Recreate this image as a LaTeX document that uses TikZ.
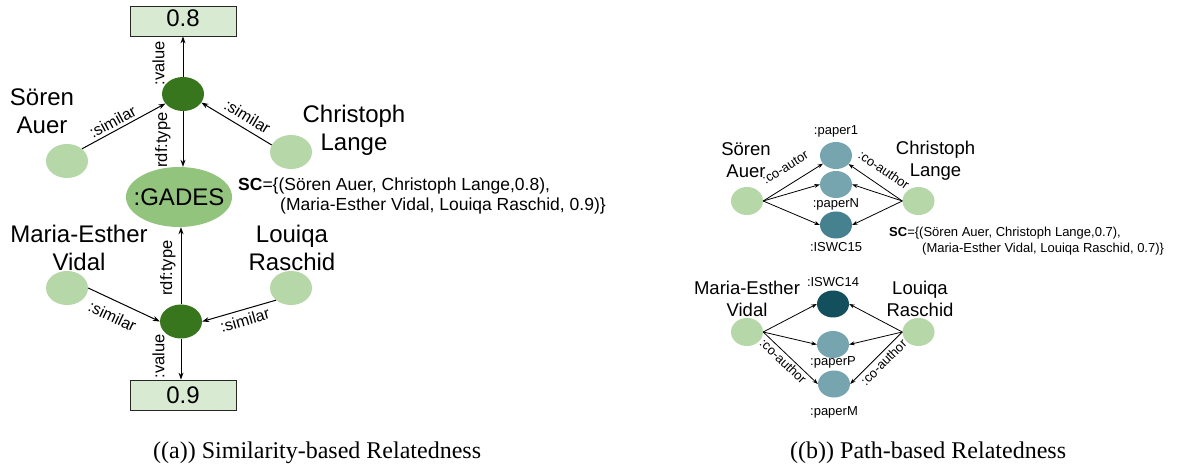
\documentclass[tikz,border=0pt]{standalone}
\usepackage{fontspec}
\setmainfont{Liberation Sans}
\newfontfamily\capfont{Liberation Serif}
\usetikzlibrary{shapes.geometric,arrows.meta}

\definecolor{entfill}{HTML}{B6D7A8}
\definecolor{hubfill}{HTML}{38761D}
\definecolor{clsfill}{HTML}{93C47D}
\definecolor{valfill}{HTML}{D9EAD3}
\definecolor{paperfill}{HTML}{76A5AF}
\definecolor{confAfill}{HTML}{45818E}
\definecolor{confBfill}{HTML}{134F5C}

\newcommand{\fsz}[2]{\fontsize{#1}{#2}\selectfont}

\begin{document}
\begin{tikzpicture}[x=1pt,y=-1pt,
  % (a) similarity graph
  ent/.style={ellipse, fill=entfill, minimum width=42pt, minimum height=34pt, inner sep=0pt},
  hub/.style={ellipse, fill=hubfill, minimum width=42pt, minimum height=34pt, inner sep=0pt},
  cls/.style={ellipse, fill=clsfill, minimum width=106pt, minimum height=60pt, inner sep=0pt},
  clstext/.style={inner sep=0pt, font=\fsz{24}{28}},
  valbox/.style={rectangle, draw=black!85, line width=0.8pt, fill=valfill, minimum width=106pt, minimum height=30pt, inner sep=0pt, font=\fsz{24}{28}},
  bigname/.style={align=center, inner sep=0pt, font=\fsz{24}{28}},
  rel/.style={-{Stealth[length=7pt,width=5pt]}, line width=1pt},
  elbl/.style={font=\fsz{16}{18}, sloped},
  vlbl/.style={font=\fsz{16.5}{18}, rotate=90, anchor=south},
  sclbl/.style={align=left, anchor=west, inner sep=0pt, font=\fsz{17.5}{20}},
  % (b) path graph
  ent2/.style={ellipse, fill=entfill, minimum width=32pt, minimum height=28pt, inner sep=0pt},
  pap/.style={ellipse, fill=paperfill, minimum width=32pt, minimum height=27pt, inner sep=0pt},
  midname/.style={align=center, inner sep=0pt, font=\fsz{18.5}{22}},
  plbl/.style={inner sep=0pt, font=\fsz{13}{15}},
  prel/.style={-{Stealth[length=5.5pt,width=4pt]}, line width=0.8pt},
  clbl/.style={font=\fsz{13}{15}, sloped},
  sclbl2/.style={align=left, anchor=west, inner sep=0pt, font=\fsz{13}{16}},
  capt/.style={anchor=base west, inner sep=0pt, font=\capfont\fsz{24}{27}}
]
\fill[white] (0,0) rectangle (1179,465);
\useasboundingbox (0,0) rectangle (1179,465);

% ---------- (a) Similarity-based relatedness ----------
\node[valbox] (v1) at (183,21) {\raisebox{5pt}{0.8}};
\node[hub] (h1) at (183,94) {};
\node[ent] (s1) at (67,161) {};
\node[ent] (c1) at (291,152) {};
\node[cls] (g) at (179,197) {};
\node[clstext] (gt) at (g.center) {:GADES};
\node[hub] (h2) at (181,321.5) {};
\node[ent] (m1) at (67,288) {};
\node[ent] (l1) at (291,288) {};
\node[valbox] (v2) at (183,395) {0.9};

\node[bigname] (s1t) at (42,111) {Sören\\Auer};
\node[bigname] (c1t) at (354,130) {Christoph\\Lange};
\node[bigname] (m1t) at (79,247.5) {Maria-Esther\\Vidal};
\node[bigname] (l1t) at (292,247.5) {Louiqa\\Raschid};

\node[sclbl] (sc1) at (238,196) {\textbf{SC}=\{(Sören Auer, Christoph Lange,0.8),\\\hspace*{42pt}(Maria-Esther Vidal, Louiqa Raschid, 0.9)\}};

\draw[rel] (s1.north east) -- node[elbl, above, pos=0.42, inner sep=3pt] {:similar} (h1);
\draw[rel] (c1.160) -- node[elbl, above, pos=0.43, inner sep=5.5pt] {:similar} (h1.-25);
\draw[rel] (h1.north) -- node[vlbl, pos=0.34, inner sep=18pt] {:value} (v1.south);
\draw[rel] (h1.south) -- node[vlbl, pos=0.52, inner sep=12pt] {rdf:type} (h1.south |- g.north);
\draw[rel] (m1.east) -- node[elbl, below, pos=0.43, inner sep=9pt] {:similar} (h2.west);
\draw[rel] (l1.south west) -- node[elbl, below, pos=0.46, inner sep=4pt] {:similar} (h2.east);
\draw[rel] (h2.north) -- node[vlbl, pos=0.47, inner sep=5pt] {rdf:type} (h2.north |- g.south);
\draw[rel] (h2.south) -- node[vlbl, pos=0.43, inner sep=16pt] {:value} (h2.south |- v2.north);

% ---------- (b) Path-based relatedness ----------
\node[ent2] (s2) at (747,201) {};
\node[ent2] (c2) at (918.5,201) {};
\node[pap] (p1) at (836,155.5) {};
\node[pap] (pn) at (836,184.5) {};
\node[pap, fill=confAfill] (i15) at (836,225) {};
\node[ent2] (m2) at (747,332) {};
\node[ent2] (l2) at (918.5,332) {};
\node[pap, fill=confBfill] (i14) at (833,304) {};
\node[pap] (pp) at (833,344.5) {};
\node[pap] (pm) at (834,384) {};

\node[midname] (s2t) at (746,160) {Sören\\Auer};
\node[midname] (c2t) at (935.5,161) {Christoph\\Lange};
\node[midname] (m2t) at (747,299) {Maria-Esther\\Vidal};
\node[midname] (l2t) at (920,298.5) {Louiqa\\Raschid};

\node[plbl] (p1t) at (836,131) {:paper1};
\node[plbl] (pnt) at (836,204.5) {:paperN};
\node[plbl] (i15t) at (836,247.5) {:ISWC15};
\node[plbl] (i14t) at (833,282.5) {:ISWC14};
\node[plbl] (ppt) at (833,362.5) {:paperP};
\node[plbl] (pmt) at (834,412.5) {:paperM};

\node[sclbl2] (sc2) at (889,241) {\textbf{SC}=\{(Sören Auer, Christoph Lange,0.7),\\\hspace*{33pt}(Maria-Esther Vidal, Louiqa Raschid, 0.7)\}};

\draw[prel] (s2.east) -- node[clbl, above, pos=0.52, inner sep=12pt] {:co-autor} (p1);
\draw[prel] (s2.east) -- (pn.west);
\draw[prel] (s2.east) -- (i15.west);
\draw[prel] (c2.west) -- node[clbl, above, pos=0.5, inner sep=10pt] {:co-author} (p1);
\draw[prel] (c2.west) -- (pn.east);
\draw[prel] (c2.west) -- (i15.east);

\draw[prel] (m2.east) -- (i14.west);
\draw[prel] (m2.east) -- (pp.west);
\draw[prel] (m2.east) -- node[clbl, below, pos=0.46, inner sep=2pt] {:co-author} (pm.west);
\draw[prel] (l2.west) -- (i14.east);
\draw[prel] (l2.west) -- (pp.east);
\draw[prel] (l2.west) -- node[clbl, below, pos=0.47, inner sep=3pt] {:co-author} (pm.east);

% ---------- captions ----------
\node[capt] (capa) at (153,458) {((a)) Similarity-based Relatedness};
\node[capt] (capb) at (790,458) {((b)) Path-based Relatedness};
\end{tikzpicture}
\end{document}
